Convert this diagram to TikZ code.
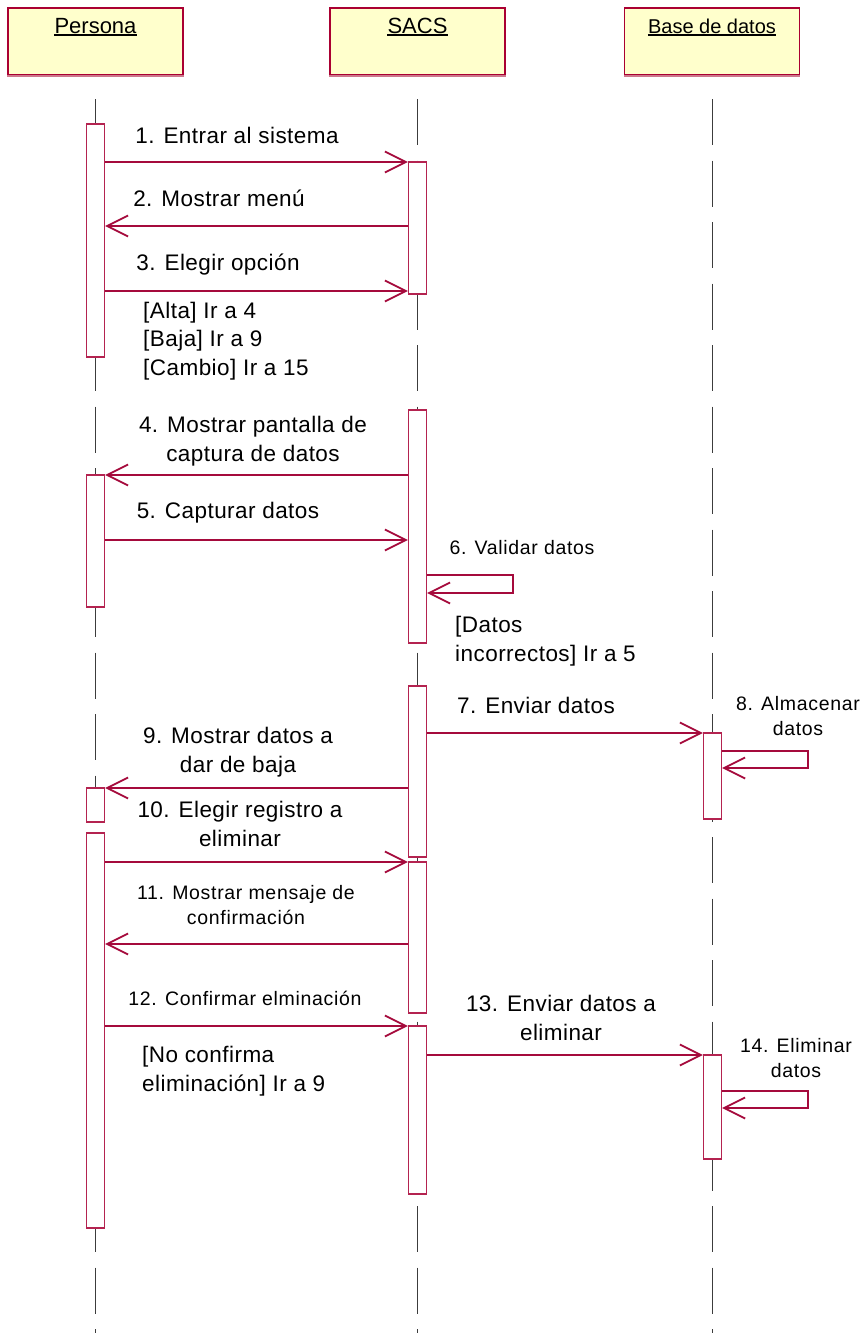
\documentclass[tikz,border=0pt]{standalone}
\usepackage{fontspec}
\setmainfont{Liberation Sans}
\newfontfamily\msgfont[LetterSpace=2]{Liberation Sans}
\newfontfamily\notefont[LetterSpace=3.5]{Liberation Sans}
\usetikzlibrary{arrows.meta}

\definecolor{rose}{RGB}{165,10,60}
\definecolor{actc}{RGB}{180,35,80}
\definecolor{headc}{RGB}{170,0,50}
\definecolor{headedge}{RGB}{205,120,140}
\definecolor{headfill}{RGB}{255,255,204}
\definecolor{lifec}{RGB}{60,60,60}

% activation bar: name, x centre, top y, bottom y
\newcommand\actbar[4]{\node[act,minimum height={#4-#3}] (#1) at (#2,{(#3+#4)/2}) {};}

\begin{document}
\begin{tikzpicture}[x=1pt,y=-1pt,
  head/.style={draw=headc,fill=headfill,line width=1.2pt,minimum width=175pt,minimum height=67pt,inner sep=0},
  headtxt/.style={inner sep=0,anchor=base,font=\fontsize{22}{26}\selectfont},
  act/.style={draw=actc,fill=white,line width=1.2pt,minimum width=18pt,inner sep=0},
  life/.style={draw=lifec,line width=1.1pt,dash pattern=on 46pt off 15.5pt},
  msg/.style={draw=rose,line width=1.2pt,-{Straight Barb[length=21pt,width=21pt,line width=1.8pt]}},
  lbl/.style={font=\msgfont\fontsize{22.5}{28.5}\selectfont,inner sep=0,align=center},
  note/.style={font=\notefont\fontsize{19.5}{25.5}\selectfont,inner sep=0,align=center},
  guard/.style={lbl,align=left,anchor=west}]

\useasboundingbox (0,0) rectangle (860,1333);
\fill[white] (0,0) rectangle (860,1333);

% object heads
\node[head] (hp) at (95.5,41.5) {};
\node[head] (hs) at (417.5,41.5) {};
\node[head] (hb) at (712,41.5) {};
\foreach \h in {hp,hs,hb}
  \draw[headedge,line width=2pt] ([yshift=-0.5pt]\h.south west) -- ([yshift=-0.5pt]\h.south east);

\node[headtxt] (tp) at (95.5,33) {Persona};
\node[headtxt] (ts) at (417.5,33) {SACS};
\node[headtxt,font=\fontsize{20}{24}\selectfont] (tb) at (712,33) {Base de datos};
\foreach \t in {tp,ts,tb}
  \draw[line width=2pt] ([yshift=-2pt]\t.base west) -- ([yshift=-2pt]\t.base east);

% lifelines
\coordinate (top) at (0,99);
\coordinate (bot) at (0,1333);
\draw[life] (hp.south |- top) -- (hp.south |- bot);
\draw[life] (hs.south |- top) -- (hs.south |- bot);
\draw[life] ([xshift=0.5pt]hb.south |- top) -- ([xshift=0.5pt]hb.south |- bot);

% activation bars
\actbar{p1}{95.5}{124}{357}
\actbar{p2}{95.5}{475}{607}
\actbar{p3}{95.5}{788}{822}
\actbar{p4}{95.5}{833}{1228}
\actbar{s1}{417.5}{162}{294}
\actbar{s2}{417.5}{410}{643}
\actbar{s3}{417.5}{686}{857}
\actbar{s4}{417.5}{862}{1013}
\actbar{s5}{417.5}{1026}{1194}
\actbar{b1}{712.5}{733}{819}
\actbar{b2}{712.5}{1055}{1159}

% message levels
\coordinate (y1) at (0,162);
\coordinate (y2) at (0,226);
\coordinate (y3) at (0,291);
\coordinate (y4) at (0,475);
\coordinate (y5) at (0,540);
\coordinate (y6a) at (0,575);
\coordinate (y6b) at (0,593);
\coordinate (y7) at (0,733);
\coordinate (y8a) at (0,751);
\coordinate (y8b) at (0,768);
\coordinate (y9) at (0,788);
\coordinate (y10) at (0,862);
\coordinate (y11) at (0,944);
\coordinate (y12) at (0,1026);
\coordinate (y13) at (0,1055);
\coordinate (y14a) at (0,1091);
\coordinate (y14b) at (0,1108);
\coordinate (xs) at (513,0);
\coordinate (xb) at (808,0);

% messages
\draw[msg] (p1.east |- y1) -- (s1.west |- y1);
\draw[msg] (s1.west |- y2) -- (p1.east |- y2);
\draw[msg] (p1.east |- y3) -- (s1.west |- y3);
\draw[msg] (s2.west |- y4) -- (p2.east |- y4);
\draw[msg] (p2.east |- y5) -- (s2.west |- y5);
\draw[msg] (s2.east |- y6a) -- (xs |- y6a) -- (xs |- y6b) -- (s2.east |- y6b);
\draw[msg] (s3.east |- y7) -- (b1.west |- y7);
\draw[msg] (b1.east |- y8a) -- (xb |- y8a) -- (xb |- y8b) -- (b1.east |- y8b);
\draw[msg] (s3.west |- y9) -- (p3.east |- y9);
\draw[msg] (p4.east |- y10) -- (s4.west |- y10);
\draw[msg] (s4.west |- y11) -- (p4.east |- y11);
\draw[msg] (p4.east |- y12) -- (s5.west |- y12);
\draw[msg] (s5.east |- y13) -- (b2.west |- y13);
\draw[msg] (b2.east |- y14a) -- (xb |- y14a) -- (xb |- y14b) -- (b2.east |- y14b);

% labels
\node[lbl] (l1) at (237,135) {1. Entrar al sistema};
\node[lbl] (l2) at (219,198) {2. Mostrar menú};
\node[lbl] (l3) at (218,265) {3. Elegir opción};
\node[guard] (g3) at (143,341) {[Alta] Ir a 4\\{}[Baja] Ir a 9\\{}[Cambio] Ir a 15};
\node[lbl] (l4) at (253,441) {4. Mostrar pantalla de\\captura de datos};
\node[lbl] (l5) at (228,513) {5. Capturar datos};
\node[note] (l6) at (522,548) {6. Validar datos};
\node[guard] (g6) at (455,641) {[Datos\\incorrectos] Ir a 5};
\node[lbl] (l7) at (536,705) {7. Enviar datos};
\node[note] (l8) at (798,716) {8. Almacenar\\datos};
\node[lbl] (l9) at (238,752) {9. Mostrar datos a\\dar de baja};
\node[lbl] (l10) at (240,824) {10. Elegir registro a\\eliminar};
\node[note] (l11) at (246,905) {11. Mostrar mensaje de\\confirmación};
\node[note] (l12) at (245,998) {12. Confirmar elminación};
\node[guard] (g12) at (142,1071) {[No confirma\\eliminación] Ir a 9};
\node[lbl] (l13) at (561,1018) {13. Enviar datos a\\eliminar};
\node[note] (l14) at (796,1058) {14. Eliminar\\datos};
\end{tikzpicture}
\end{document}
